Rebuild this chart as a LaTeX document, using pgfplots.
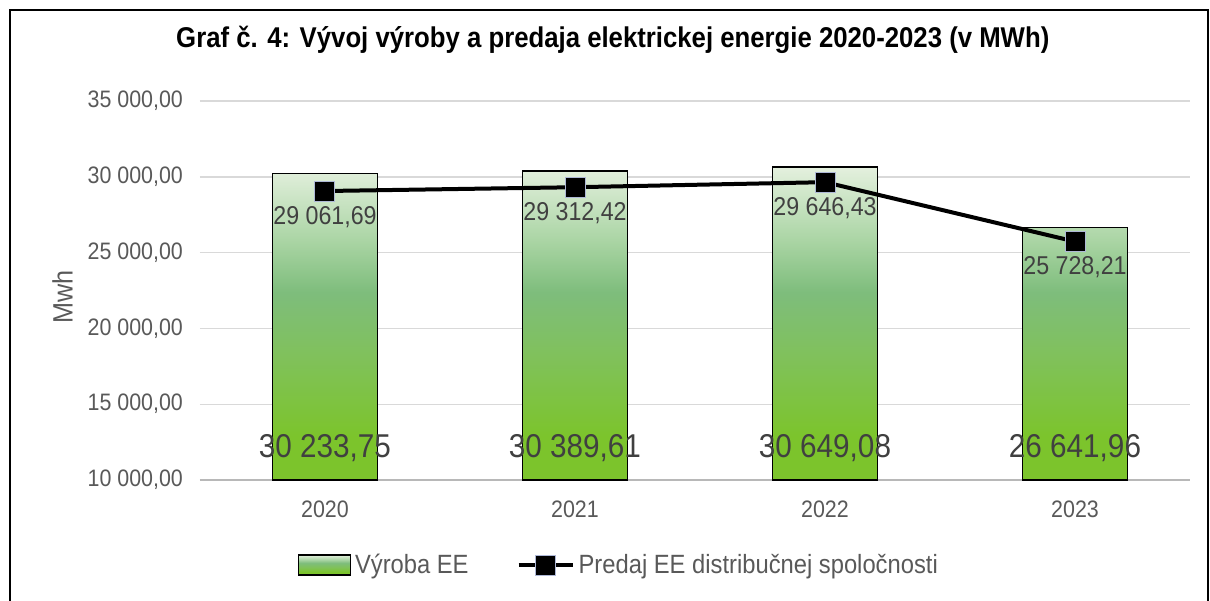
\documentclass[border=0pt]{standalone}
\usepackage{pgfplots}
\pgfplotsset{compat=1.18}
\usepackage{pgfplotstable}
\usepackage{fontspec}
\setmainfont{Liberation Sans}[FakeStretch=0.9]

\definecolor{ticktxt}{HTML}{595959}
\definecolor{lbltxt}{HTML}{404040}
\definecolor{barTop}{HTML}{E4F0DE}
\definecolor{barUp}{HTML}{A9D4A3}
\definecolor{barMid}{HTML}{7EBD7C}
\definecolor{barLow}{HTML}{80C15C}
\definecolor{barBot}{HTML}{7CC42C}
\definecolor{markEdge}{HTML}{AEB8D6}

% vertical gradient of the bars: path is mapped to 25bp..75bp
\pgfdeclareverticalshading{barshade}{100bp}{
  color(0bp)=(barBot); color(25bp)=(barBot); color(32bp)=(barBot);
  color(45bp)=(barLow); color(55bp)=(barMid); color(63bp)=(barUp);
  color(75bp)=(barTop); color(100bp)=(barTop)}

\pgfplotstableread{
x year bar line
0 2020 30233.75 29061.69
1 2021 30389.61 29312.42
2 2022 30649.08 29646.43
3 2023 26641.96 25728.21
}\vyroba

\pgfplotsset{
  /pgf/number format/.cd, fixed, fixed zerofill, precision=2,
  use comma, 1000 sep={\ }, assume math mode=true,
}
\pgfplotsset{
  boxlegend/.style={legend image code/.code={\draw[##1] (0pt,-5pt) rectangle (26pt,5pt);}},
  linelegend/.style={legend image code/.code={\draw[mark repeat=2, mark phase=2, ##1]
        plot coordinates {(0pt,0pt) (13.5pt,0pt) (27pt,0pt)};}},
}

\begin{document}
\begin{tikzpicture}
\useasboundingbox (-100pt,-60pt) rectangle (505pt,240pt);
\draw[line width=0.8pt] (-95pt,-70pt) rectangle (504pt,235pt);
\begin{axis}[
    at={(0,0)}, anchor=south west,
    scale only axis,
    width=495pt, height=189.5pt,
    xmin=-0.5, xmax=3.46,
    ymin=10000, ymax=35000,
    ytick={10000,15000,...,35000},
    scaled ticks=false,
    xtick={0,1,2,3},
    xticklabels={2020,2021,2022,2023},
    axis lines*=left,
    y axis line style={draw=none},
    x axis line style={draw=black!28, line width=0.7pt},
    major tick length=0pt,
    ymajorgrids=true,
    grid style={draw=black!15, line width=0.7pt},
    tick label style={font=\fontsize{11.9}{13}\selectfont, text=ticktxt},
    xticklabel style={yshift=-7pt},
    yticklabel style={xshift=-5pt},
    ylabel={Mwh},
    ylabel style={at={(axis description cs:-0.139,0.483)}, anchor=center,
        font=\fontsize{14}{16}\selectfont, text=ticktxt},
    title={\textbf{Graf č. 4: Vývoj výroby a predaja elektrickej energie 2020-2023 (v MWh)}},
    title style={at={(axis description cs:0.417,1)}, anchor=base, yshift=20.5pt,
        font=\fontsize{14.3}{16}\selectfont},
    legend columns=2,
    legend style={at={(axis description cs:0.424,0)}, anchor=center, yshift=-42.5pt,
        draw=none, fill=none, font=\fontsize{13.2}{15}\selectfont,
        text=ticktxt, /tikz/every even column/.append style={column sep=22pt}},
]
\addplot[ybar, bar width=0.42, draw=black, line width=0.7pt,
    shade, shading=barshade, boxlegend]
    table[x=x, y=bar] {\vyroba};
\addlegendentry{Výroba EE}

\addplot[black, line width=2pt, mark=square*, mark size=5pt,
    mark options={fill=black, draw=markEdge, line width=0.5pt},
    nodes near coords, point meta=explicit,
    every node near coord/.append style={anchor=north, yshift=-4pt,
        font=\fontsize{12.9}{14}\selectfont, text=lbltxt},
    linelegend]
    table[x=x, y=line, meta=line] {\vyroba};
\addlegendentry{Predaj EE distribučnej spoločnosti}

\addplot[draw=none, mark=none, forget plot,
    nodes near coords, point meta=explicit,
    every node near coord/.append style={anchor=center, yshift=0pt,
        font=\fontsize{16.5}{19}\selectfont, text=lbltxt}]
    table[x=x, y expr=12100, meta=bar] {\vyroba};
\end{axis}
\end{tikzpicture}
\end{document}
